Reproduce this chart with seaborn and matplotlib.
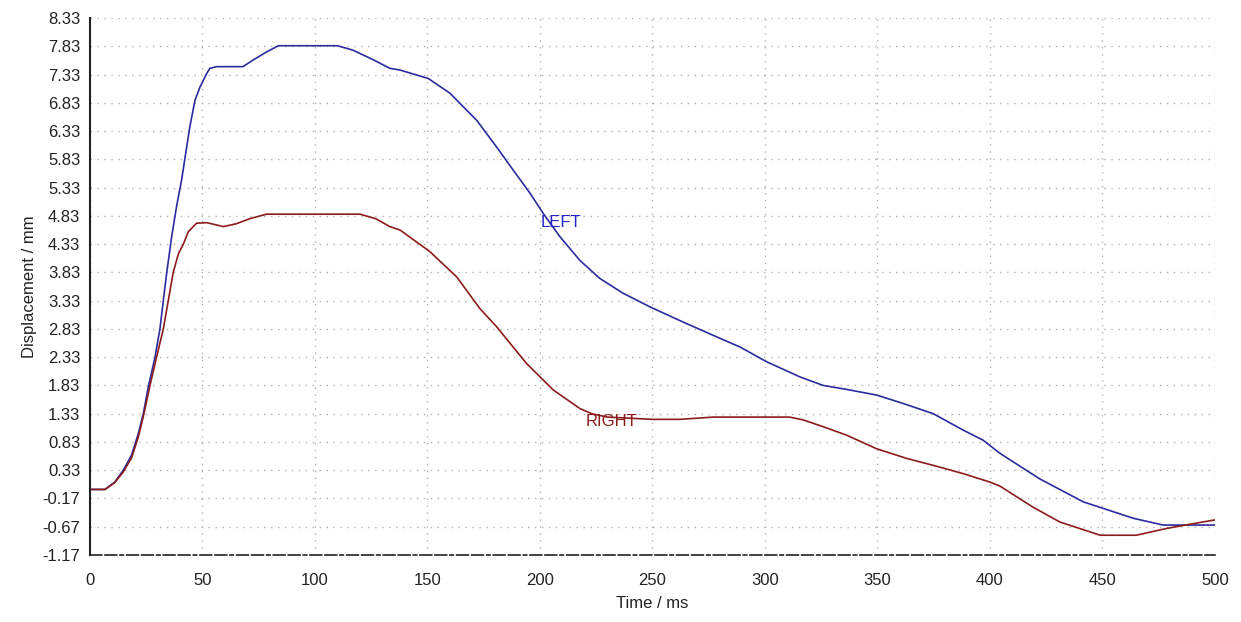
import matplotlib
matplotlib.use("Agg")
import matplotlib.pyplot as plt
import seaborn as sns
import numpy as np
import pandas as pd

# ---- data ----
left_t = [0, 6.7, 11, 14.8, 18.5, 21.5, 23.7, 25.9, 28.9, 31.1, 32.6, 34.1, 36.3, 38.5,
          40.7, 43, 44.4, 46.7, 48.9, 50.4, 51.9, 53.3, 56.3, 68, 72.6, 78.5, 83.7,
          110, 117, 126, 133.3, 137.8, 150.4, 160, 171.9, 180.7, 188.1, 195.6, 201.5,
          208.9, 217.8, 226.7, 237, 248.9, 263.7, 278.5, 288.9, 300.7, 315.6, 325.9,
          336.3, 349.6, 361.5, 374.8, 388.1, 397, 404.4, 422, 441.5, 463.7, 477, 499, 500]
left_v = [-0.01, -0.01, 0.12, 0.33, 0.6, 0.98, 1.33, 1.8, 2.33, 2.83, 3.33, 3.82, 4.46, 5.0,
          5.46, 6.05, 6.41, 6.88, 7.11, 7.23, 7.35, 7.44, 7.47, 7.47, 7.59, 7.73, 7.84,
          7.84, 7.76, 7.59, 7.44, 7.41, 7.26, 7.0, 6.52, 6.05, 5.64, 5.23, 4.87,
          4.46, 4.04, 3.72, 3.46, 3.22, 2.95, 2.69, 2.51, 2.25, 1.98, 1.83,
          1.76, 1.66, 1.51, 1.33, 1.04, 0.86, 0.63, 0.18, -0.23, -0.52, -0.64, -0.64, -0.64]

right_t = [0, 6.7, 11, 14.8, 18.5, 21.5, 24, 26.5, 29.6, 32.6, 34.8, 37, 39.3, 41.5, 43.7,
           47.4, 51.9, 59.3, 65, 71, 78.5, 120, 127, 133.3, 137.8, 151, 163, 173.3,
           180.7, 194, 205.9, 217.8, 223, 230, 250, 262.2, 277, 311, 317, 325.9, 336.3,
           349.6, 362.9, 376.3, 388.1, 400, 404.4, 419, 431, 449, 465, 478.5, 499, 500]
right_v = [-0.01, -0.01, 0.11, 0.3, 0.55, 0.92, 1.33, 1.8, 2.33, 2.83, 3.33, 3.83, 4.16, 4.33,
           4.55, 4.70, 4.71, 4.64, 4.69, 4.78, 4.86, 4.86, 4.78, 4.64, 4.58, 4.2, 3.75,
           3.19, 2.87, 2.22, 1.75, 1.42, 1.33, 1.27, 1.23, 1.23, 1.27, 1.27, 1.22, 1.10,
           0.95, 0.71, 0.54, 0.40, 0.27, 0.12, 0.05, -0.32, -0.585, -0.82, -0.82, -0.70,
           -0.555, -0.55]

y_ticks = [round(-1.17 + 0.5 * i, 2) for i in range(20)]
x_ticks = list(range(0, 501, 50))

series_names = ["LEFT", "RIGHT"]
series_colors = {"LEFT": "#2b2b9e", "RIGHT": "#8c1c1c"}
label_colors = {"LEFT": "#2424c8", "RIGHT": "#8c1c1c"}
label_pos = {"LEFT": (200.5, 4.72), "RIGHT": (220.4, 1.2)}

df = pd.concat([
    pd.DataFrame({"t": left_t, "v": left_v, "s": "LEFT"}),
    pd.DataFrame({"t": right_t, "v": right_v, "s": "RIGHT"}),
])

sns.set_style("white")
plt.rcParams["font.family"] = ["Liberation Sans", "DejaVu Sans"]

fig = plt.figure(figsize=(12.41, 6.22), dpi=100)
ax = fig.add_axes([0.0725, 0.1077, 0.9065, 0.8633])

sns.lineplot(data=df, x="t", y="v", hue="s", hue_order=series_names,
             palette=series_colors, ax=ax, legend=False, linewidth=1.2,
             sort=False, estimator=None)

for s in series_names:
    x, y = label_pos[s]
    ax.text(x, y, s, color=label_colors[s], fontsize=12, va="center", ha="left")

ax.set_xlim(0, 500)
ax.set_ylim(-1.17, 8.33)
ax.set_xticks(x_ticks)
ax.set_yticks(y_ticks)
ax.set_yticklabels([f"{v:.2f}" for v in y_ticks])
ax.set_xticklabels([str(v) for v in x_ticks])
ax.tick_params(axis="both", direction="inout", length=8, width=1.2, color="black",
               labelsize=12, labelcolor="#222222")
ax.tick_params(axis="x", pad=9)
ax.tick_params(axis="y", pad=3)

ax.grid(True, linestyle=(0, (1, 4)), color="#b0b0b0", linewidth=1.0)
for side in ["top", "right"]:
    ax.spines[side].set_visible(False)
ax.spines["left"].set_color("#222222")
ax.spines["left"].set_linewidth(1.5)
ax.spines["bottom"].set_color("#222222")
ax.spines["bottom"].set_linewidth(1.2)
ax.spines["bottom"].set_linestyle((0, (7, 2, 7, 2, 2, 2)))

ax.set_xlabel("Time / ms", fontsize=12, color="#222222", labelpad=6)
ax.set_ylabel("Displacement / mm", fontsize=12, color="#222222", labelpad=4)

fig.savefig("out.png", dpi=100)
